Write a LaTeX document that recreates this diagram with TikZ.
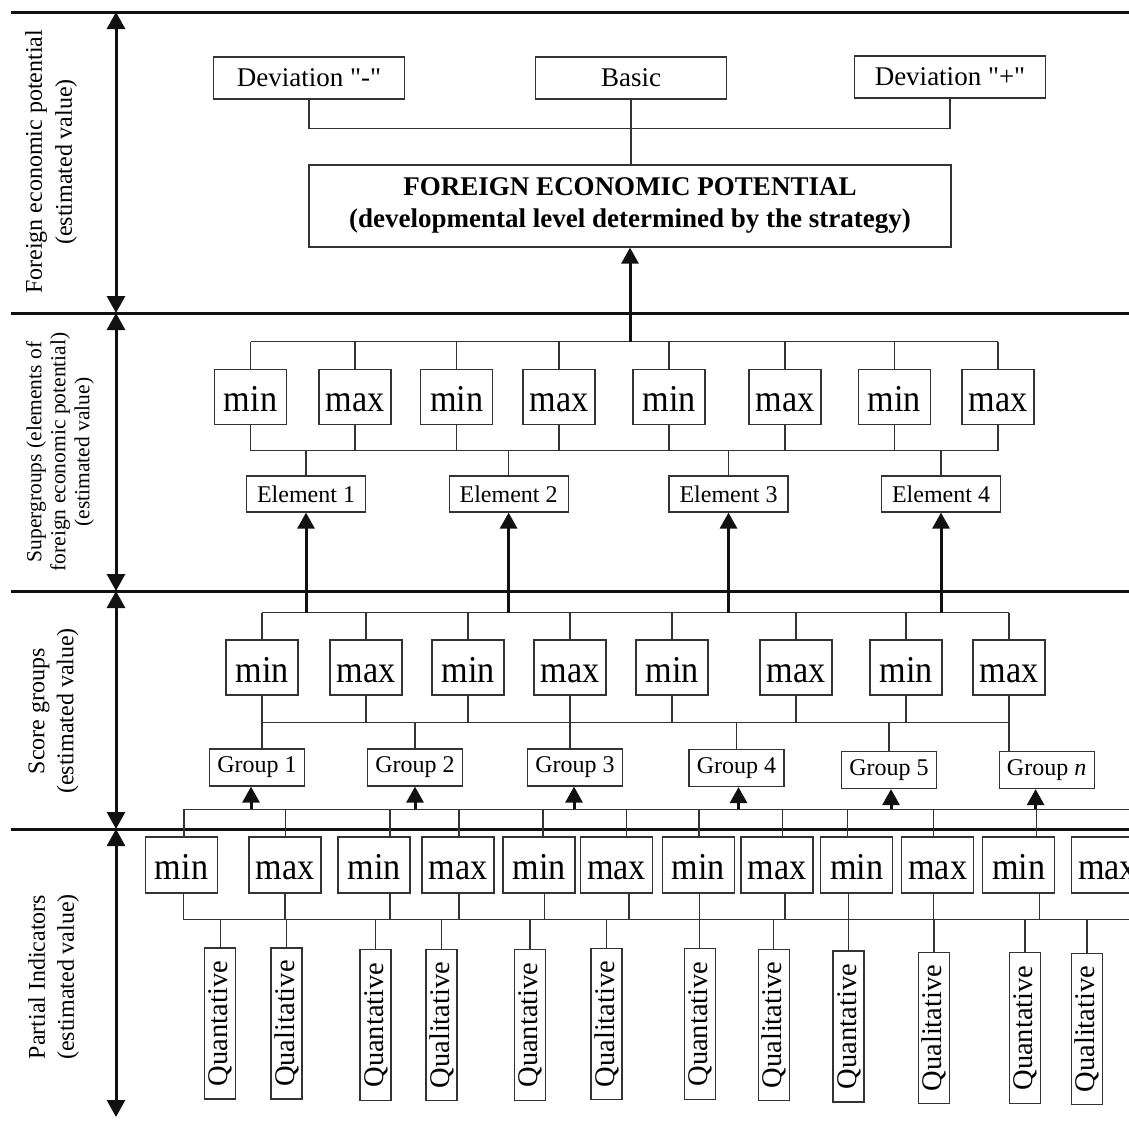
\documentclass[tikz,border=0pt]{standalone}
\usepackage{fontspec}
\setmainfont{Liberation Serif}[Ligatures=TeXOff]
\newfontfamily\condfont{Liberation Serif}[FakeStretch=0.9]
\usetikzlibrary{arrows.meta}
\definecolor{ln}{HTML}{333333}
\definecolor{hv}{HTML}{111111}
\tikzset{
 box/.style={draw=ln, line width=1.2pt, inner sep=0pt, align=center, text=black},
 mmbox/.style={box, minimum width=72pt, minimum height=55pt, text height=29pt, text depth=0pt, font=\condfont\fontsize{38}{40}\selectfont},
 elbox/.style={box, minimum width=119pt, minimum height=36pt, font=\fontsize{24}{26}\selectfont},
 grbox/.style={box, minimum width=95pt, minimum height=37pt, font=\fontsize{24}{26}\selectfont},
 indbox/.style={box, rotate=90, minimum width=151pt, minimum height=31pt, text height=19pt, text depth=4pt, font=\fontsize{28.5}{30}\selectfont},
 topbox/.style={box, minimum width=191pt, minimum height=42pt, font=\fontsize{27}{29}\selectfont},
 conn/.style={draw=ln, line width=1.2pt},
 heavy/.style={draw=hv, line width=3pt},
 uparrow/.style={heavy, -{Triangle[width=17pt,length=16pt]}},
 dblarrow/.style={heavy, {Triangle[width=18pt,length=17pt]}-{Triangle[width=18pt,length=17pt]}},
 sidelabel/.style={rotate=90, align=center, inner sep=0pt},
}
\begin{document}
\begin{tikzpicture}[x=1pt,y=-1pt]
\useasboundingbox (0,0) rectangle (1129,1120);
\clip (0,0) rectangle (1129,1120);

% section separators
\foreach \yy in {12,313,591,829} \draw[heavy] (11,\yy) -- (1135,\yy);
\coordinate (s0) at (116,12);
\coordinate (s1) at (116,313);
\coordinate (s2) at (116,591);
\coordinate (s3) at (116,829);
\coordinate (s4) at (116,1117);
\draw[dblarrow] (s0) -- (s1);
\draw[dblarrow] (s1) -- (s2);
\draw[dblarrow] (s2) -- (s3);
\draw[dblarrow] (s3) -- (s4);

% side labels
\node[sidelabel, font=\fontsize{24}{30}\selectfont] (lab1) at (51,162) {Foreign economic potential\\(estimated value)};
\node[sidelabel, font=\fontsize{21.5}{24}\selectfont] (lab2) at (60,452) {Supergroups (elements of\\foreign economic potential)\\(estimated value)};
\node[sidelabel, font=\fontsize{24}{29}\selectfont] (lab3) at (53.5,711) {Score groups\\(estimated value)};
\node[sidelabel, font=\fontsize{24}{29}\selectfont] (lab4) at (53.5,977) {Partial Indicators\\(estimated value)};

% ---- section 1
\node[topbox] (devm) at (309,78) {Deviation "-"};
\node[topbox] (basic) at (631,78) {Basic};
\node[topbox] (devp) at (950,77) {Deviation "+"};
\node[box, minimum width=642pt, minimum height=82pt, font=\bfseries\fontsize{27}{32}\selectfont] (fep) at (630,206) {FOREIGN ECONOMIC POTENTIAL\\(developmental level determined by the strategy)};
\coordinate (j1) at (0,128.3);
\draw[conn] (devm.south) -- (devm.south |- j1) -- (devp.south |- j1) -- (devp.south);
\draw[conn] (basic.south) -- (basic.south |- fep.north);

% ---- section 2
\foreach \x [count=\i] in {250.5,355,456.8,559,669,785,894.4,998}
  \node[mmbox] (a\i) at (\x,397) {\ifodd\i min\else max\fi};
\coordinate (b2t) at (0,341.7);
\coordinate (b2b) at (0,450.7);
\draw[conn] (a1.north |- b2t) -- (a8.north |- b2t);
\draw[conn] (a1.south |- b2b) -- (a8.south |- b2b);
\foreach \i in {1,...,8} {
  \draw[conn] (a\i.north) -- (a\i.north |- b2t);
  \draw[conn] (a\i.south) -- (a\i.south |- b2b);
}
\foreach \x [count=\i] in {306,508.6,728.5,941}
  \node[elbox] (e\i) at (\x,494) {Element \i};
\foreach \i in {1,...,4} \draw[conn] (e\i.north) -- (e\i.north |- b2b);
\draw[uparrow] (fep.south |- b2t) -- (fep.south);

% ---- section 3
\foreach \x [count=\i] in {262,366,468,570,672,796,906,1009}
  \node[mmbox] (c\i) at (\x,667.5) {\ifodd\i min\else max\fi};
\coordinate (b3t) at (0,612.7);
\coordinate (b3b) at (0,722.3);
\draw[conn] (c1.north |- b3t) -- (c8.north |- b3t);
\draw[conn] (c1.south |- b3b) -- (c8.south |- b3b);
\foreach \i in {1,...,8} {
  \draw[conn] (c\i.north) -- (c\i.north |- b3t);
  \draw[conn] (c\i.south) -- (c\i.south |- b3b);
}
\foreach \i in {1,...,4} \draw[uparrow] (e\i.south |- b3t) -- (e\i.south);

\node[grbox] (g1) at (257,767.5) {Group 1};
\node[grbox] (g2) at (415,767.5) {Group 2};
\node[grbox] (g3) at (575,767.5) {Group 3};
\node[grbox] (g4) at (736.5,768) {Group 4};
\node[grbox] (g5) at (889,770) {Group 5};
\node[grbox] (g6) at (1046.6,770) {Group \textit{n}};
\draw[conn] (c1.south |- b3b) -- (c1.south |- g1.north);
\draw[conn] (g2.north) -- (g2.north |- b3b);
\draw[conn] (c4.south |- b3b) -- (c4.south |- g3.north);
\draw[conn] (g4.north) -- (g4.north |- b3b);
\draw[conn] (g5.north) -- (g5.north |- b3b);
\draw[conn] (c8.south |- b3b) -- (c8.south |- g6.north);

\coordinate (b4t) at (0,809.3);
\coordinate (b4b) at (0,919.3);
\coordinate (ga1) at ([xshift=-6pt]g1.south);
\coordinate (ga2) at (g2.south);
\coordinate (ga3) at ([xshift=-1pt]g3.south);
\coordinate (ga4) at ([xshift=2pt]g4.south);
\coordinate (ga5) at ([xshift=2pt]g5.south);
\coordinate (ga6) at ([xshift=-11pt]g6.south);
\foreach \i in {1,...,6} \draw[uparrow] (ga\i |- b4t) -- (ga\i);

% ---- section 4
\foreach \x [count=\i] in {181.5,285,374,458,539,616.6,698.4,777,856.6,937.7,1018.8,1107.6}
  \node[mmbox, minimum height=56pt] (d\i) at (\x,865) {\ifodd\i min\else max\fi};
\coordinate (b4tl) at (184,809.3);
\coordinate (b4tr) at (1135,809.3);
\coordinate (b4bl) at (183.2,919.3);
\coordinate (b4br) at (1135,919.3);
\draw[conn] (b4tl) -- (b4tr);
\draw[conn] (b4bl) -- (b4br);
\foreach \x [count=\i] in {184,285.7,390,459,543,626.4,699,782.4,847.7,933.7,1036.4}
  \draw[conn] (\x,0 |- b4t) -- (\x,0 |- d\i.north);
\foreach \x [count=\i] in {183.2,285,390,459,544.6,629,699.7,785,848.5,933.7,1039.7}
  \draw[conn] (\x,0 |- d\i.south) -- (\x,0 |- b4b);

\foreach \x/\yy/\lbl [count=\i] in {220.3/1023.5/Quantative, 286.5/1023.5/Qualitative, 375.5/1025/Quantative, 441.5/1025/Qualitative, 530/1025/Quantative, 606.5/1024/Qualitative, 699.7/1024/Quantative, 773.7/1025/Qualitative, 848.5/1026.5/Quantative, 934/1028/Qualitative, 1025/1028/Quantative, 1087/1029/Qualitative}
{
  \node[indbox] (q\i) at (\x,\yy) {\lbl};
  \draw[conn] (q\i.east) -- (q\i.east |- b4b);
}
\end{tikzpicture}
\end{document}
